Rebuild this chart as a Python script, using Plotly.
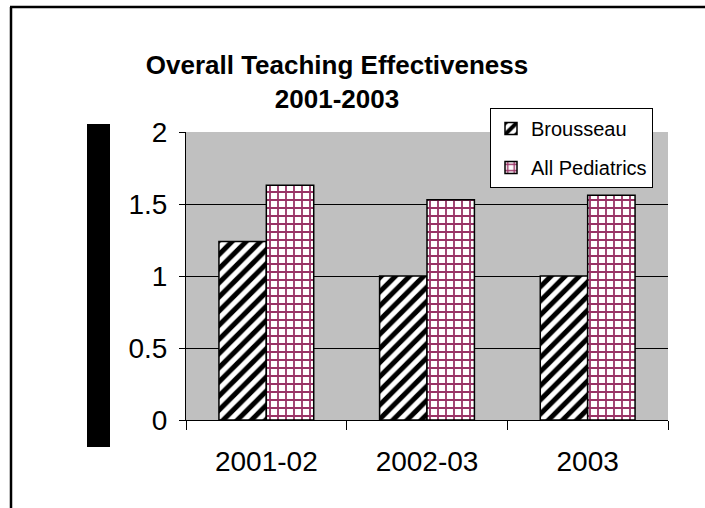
import plotly.graph_objects as go

categories = ["2001-02", "2002-03", "2003"]
brousseau = [1.24, 1.0, 1.0]
all_peds = [1.63, 1.53, 1.56]
y_ticks = [0, 0.5, 1, 1.5, 2]
y_tick_labels = ["0", "0.5", "1", "1.5", "2"]

L, R, T, B = 186, 37, 132, 88
W, H = 705, 508
pw, ph = W - L - R, H - T - B

def px(x):
    return (x - L) / pw

def py(y):
    return (H - B - y) / ph

fig = go.Figure()
fig.add_trace(go.Bar(
    x=categories, y=brousseau, name="Brousseau", legendgroup="a",
    marker=dict(color="white", line=dict(color="black", width=1.5),
                pattern=dict(shape="/", fgcolor="black", bgcolor="white", size=10, solidity=0.5,
                             fgopacity=1)),
))
fig.add_trace(go.Bar(
    x=categories, y=all_peds, name="All Pediatrics", legendgroup="b",
    marker=dict(color="white", line=dict(color="black", width=1.5),
                pattern=dict(shape="+", fgcolor="#993366", bgcolor="white", size=8, solidity=0.4,
                             fgopacity=1)),
))

shapes = [
    dict(type="line", xref="paper", yref="paper", x0=px(11), x1=px(11), y0=py(520), y1=py(7),
         line=dict(color="black", width=2.5)),
    dict(type="line", xref="paper", yref="paper", x0=px(10), x1=px(720), y0=py(7), y1=py(7),
         line=dict(color="black", width=2.5)),
    dict(type="rect", xref="paper", yref="paper", x0=px(87), x1=px(110), y0=py(447), y1=py(124),
         fillcolor="black", line=dict(width=0)),
]

fig.update_layout(
    width=W, height=H,
    margin=dict(l=L, r=R, t=T, b=B),
    paper_bgcolor="white",
    plot_bgcolor="#C0C0C0",
    font=dict(family="Liberation Sans, Arial, sans-serif", color="black"),
    title=dict(text="<b>Overall Teaching Effectiveness<br>2001-2003</b>", x=337 / W, xanchor="center",
               xref="container", y=1 - 74 / H, yanchor="top", font=dict(size=26, color="black")),
    barmode="group", bargap=0.41, bargroupgap=0,
    showlegend=True,
    legend=dict(x=px(490), y=py(108), xanchor="left", yanchor="top",
                bgcolor="white", bordercolor="black", borderwidth=1,
                font=dict(size=20), tracegroupgap=10, traceorder="grouped"),
    shapes=shapes,
)
fig.update_yaxes(range=[0, 2], tickvals=y_ticks, ticktext=y_tick_labels,
                 showgrid=True, gridcolor="black", gridwidth=1,
                 showline=True, linecolor="black", linewidth=1,
                 ticks="outside", ticklen=6, tickcolor="black", ticklabelstandoff=6,
                 tickfont=dict(size=28), zeroline=False)
fig.update_xaxes(type="category", showline=True, linecolor="black", linewidth=1,
                 ticks="outside", ticklen=9, tickcolor="black", tickson="boundaries",
                 ticklabelstandoff=16,
                 tickfont=dict(size=28), showgrid=False, tickangle=0)

fig.write_html("out.html", config={"displayModeBar": False},
               post_script="document.body.style.margin='0';")
